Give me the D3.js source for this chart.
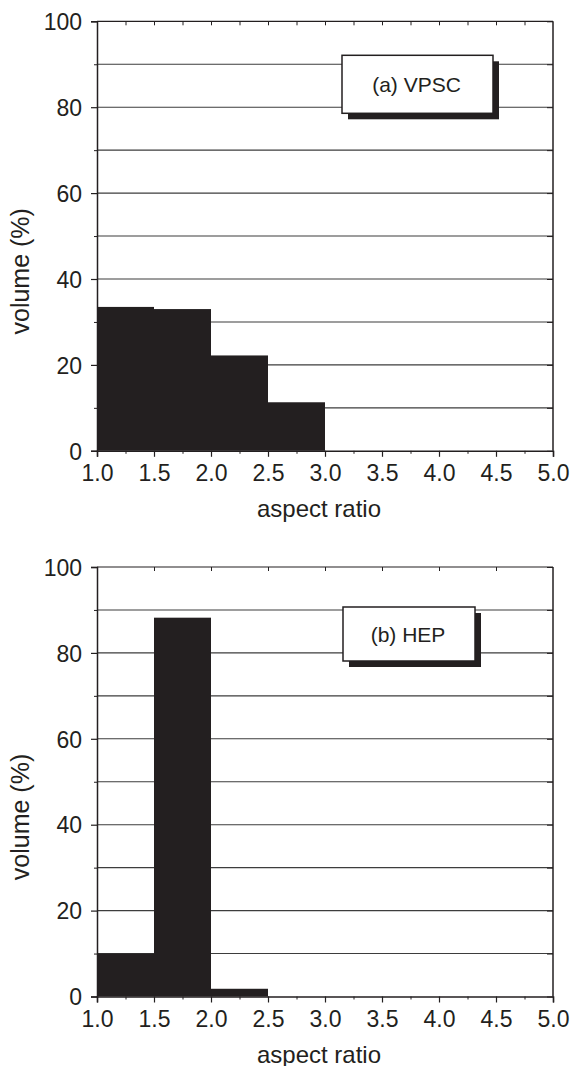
<!DOCTYPE html>
<html lang="en">
<head>
<meta charset="UTF-8">
<title>Aspect ratio histograms</title>
<script src="https://d3js.org/d3.v7.min.js"></script>
<style>
  body { margin: 0; background: #fff; }
  svg text { font-family: "Liberation Sans", Arial, Helvetica, sans-serif; fill: #231f20; }
</style>
</head>
<body>
<svg width="571" height="1066"></svg>
<script>
// data
var vpscBins = [1.0, 1.5, 2.0, 2.5];
var vpscVolume = [33.5, 33.0, 22.2, 11.3];
var hepBins = [1.0, 1.5, 2.0];
var hepVolume = [10.0, 88.2, 1.8];
var binWidth = 0.5;

var xTicks = [1.0, 1.5, 2.0, 2.5, 3.0, 3.5, 4.0, 4.5, 5.0];
var xMinor = [1.25, 1.75, 2.25, 2.75, 3.25, 3.75, 4.25, 4.75];
var yTicks = [0, 20, 40, 60, 80, 100];
var yMinor = [10, 30, 50, 70, 90];

var svg = d3.select("svg");
var ink = "#231f20";

function panel(top, bins, values, label, box, topTicks) {
    var left = 97, right = 553, bottom = top + 429.5;
    var x = d3.scaleLinear().domain([1, 5]).range([left, right]);
    var y = d3.scaleLinear().domain([0, 100]).range([bottom, top]);
    var g = svg.append("g");

    // grid lines every 10
    g.selectAll("line.grid").data(yMinor.concat([20, 40, 60, 80])).enter()
        .append("line")
        .attr("x1", left).attr("x2", right)
        .attr("y1", function(d) { return y(d); })
        .attr("y2", function(d) { return y(d); })
        .attr("stroke", "#3d3d3d").attr("stroke-width", 1.1);

    // bars
    g.selectAll("rect.bar").data(bins).enter()
        .append("rect")
        .attr("x", function(d) { return x(d); })
        .attr("width", function(d) { return x(d + binWidth) - x(d); })
        .attr("y", function(d, i) { return y(values[i]); })
        .attr("height", function(d, i) { return y(0) - y(values[i]); })
        .attr("fill", ink);

    // frame: top and right
    g.append("line").attr("x1", left).attr("x2", right).attr("y1", top).attr("y2", top)
        .attr("stroke", ink).attr("stroke-width", 1.2);
    g.append("line").attr("x1", right).attr("x2", right).attr("y1", top).attr("y2", bottom)
        .attr("stroke", ink).attr("stroke-width", 1.5);

    // top inward ticks
    g.append("g").attr("transform", "translate(0," + top + ")")
        .call(d3.axisTop(x).tickValues(topTicks).tickSize(-4).tickFormat(""))
        .call(function(s) { s.select(".domain").remove(); s.selectAll("line").attr("stroke", ink); });

    // right inward ticks
    g.append("g").attr("transform", "translate(" + right + ",0)")
        .call(d3.axisRight(y).tickValues(yMinor.concat(yTicks)).tickSize(-6).tickFormat(""))
        .call(function(s) { s.select(".domain").remove(); s.selectAll("line").attr("stroke", ink); });

    // left axis
    g.append("g").attr("transform", "translate(" + left + ",0)")
        .call(d3.axisLeft(y).tickValues(yMinor).tickSize(3).tickFormat(""))
        .call(function(s) { s.select(".domain").remove(); s.selectAll("line").attr("stroke", ink); });
    var ya = g.append("g").attr("transform", "translate(" + left + ",0)")
        .call(d3.axisLeft(y).tickValues(yTicks).tickSize(6).tickPadding(9));
    ya.select(".domain").attr("stroke", ink).attr("stroke-width", 1.5);
    ya.selectAll("line").attr("stroke", ink).attr("stroke-width", 1.2);
    ya.selectAll("text").attr("font-size", "23px").attr("dy", "0.36em");

    // bottom axis
    g.append("g").attr("transform", "translate(0," + bottom + ")")
        .call(d3.axisBottom(x).tickValues(xMinor).tickSize(3).tickFormat(""))
        .call(function(s) { s.select(".domain").remove(); s.selectAll("line").attr("stroke", ink); });
    var xa = g.append("g").attr("transform", "translate(0," + bottom + ")")
        .call(d3.axisBottom(x).tickValues(xTicks).tickSize(6).tickPadding(8).tickFormat(d3.format(".1f")));
    xa.select(".domain").attr("stroke", ink).attr("stroke-width", 1.5);
    xa.selectAll("line").attr("stroke", ink).attr("stroke-width", 1.2);
    xa.selectAll("text").attr("font-size", "23px");

    // axis titles
    svg.append("text")
        .attr("x", (left + right) / 2 - 6).attr("y", bottom + 66)
        .attr("text-anchor", "middle").attr("font-size", "24px")
        .text("aspect ratio");
    svg.append("text")
        .attr("transform", "translate(28.5," + (top + 250) + ") rotate(-90)")
        .attr("text-anchor", "middle").attr("font-size", "25px")
        .text("volume (%)");

    // label box with drop shadow
    g.append("rect").attr("x", box.x + 6).attr("y", top + box.y + 6)
        .attr("width", box.w).attr("height", box.h).attr("fill", ink);
    g.append("rect").attr("x", box.x).attr("y", top + box.y)
        .attr("width", box.w).attr("height", box.h)
        .attr("fill", "#fff").attr("stroke", ink).attr("stroke-width", 1.5);
    g.append("text").attr("x", box.x + box.w / 2 - 1).attr("y", top + box.y + box.h / 2 + 7.5)
        .attr("text-anchor", "middle").attr("font-size", "21px")
        .text(label);
}

panel(21.3, vpscBins, vpscVolume, "(a) VPSC", { x: 342, y: 34, w: 151, h: 58 },
    [1.25, 1.5, 1.75, 2.0, 2.25, 2.5, 2.75, 3.0, 3.25, 3.5, 3.75, 4.0, 4.25, 4.5, 4.75]);
panel(567, hepBins, hepVolume, "(b) HEP", { x: 343, y: 40, w: 132, h: 54 },
    [1.5, 2.0, 2.5, 3.0, 3.5, 4.0, 4.5]);
</script>
</body>
</html>
